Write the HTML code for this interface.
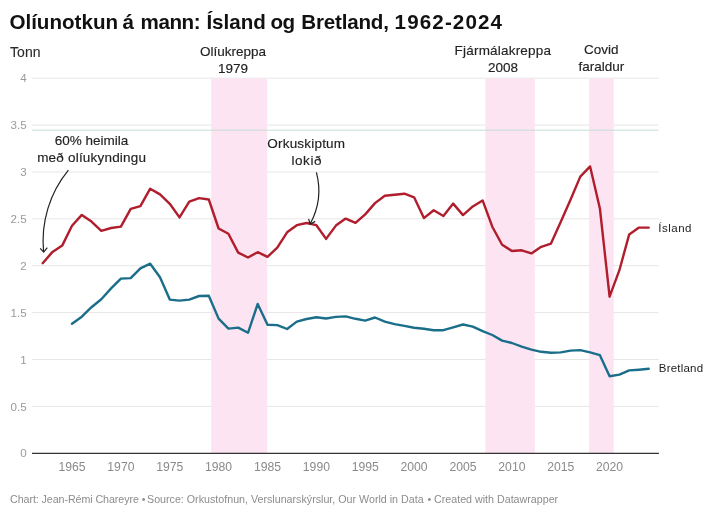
<!DOCTYPE html>
<html><head><meta charset="utf-8">
<style>
html,body{margin:0;padding:0;background:#fff;}
body{width:713px;height:516px;overflow:hidden;position:relative;}
svg{position:absolute;left:0;top:0;}
svg{will-change:transform;}
text{font-family:"Liberation Sans",sans-serif;}
.g{stroke:#e6e6e6;stroke-width:1;}
.yl{font-size:11.6px;fill:#9a9a9a;text-anchor:end;}
.xl{font-size:12.2px;fill:#8a8a8a;text-anchor:middle;}
.an{font-size:13.5px;fill:#222;stroke:#222;stroke-width:0.15px;text-anchor:middle;}
.lab{font-size:11.5px;fill:#1e1e1e;}
</style></head><body>
<svg width="713" height="516" viewBox="0 0 713 516">
<text y="29.4" style="font-size:20.6px;font-weight:bold;fill:#111"><tspan x="9.4">Olíunotkun</tspan> <tspan x="122.6">á</tspan> <tspan x="140.6" style="letter-spacing:-0.45px">mann:</tspan> <tspan x="206.4">Ísland</tspan> <tspan x="270.5" style="letter-spacing:-0.6px">og</tspan> <tspan x="301.3" style="letter-spacing:-0.2px">Bretland,</tspan> <tspan x="394.6" style="letter-spacing:1.12px">1962-2024</tspan></text>
<text x="10.1" y="57.1" style="font-size:14px;fill:#2a2a2a;stroke:#2a2a2a;stroke-width:0.12px">Tonn</text>
<line x1="32" x2="658.5" y1="78.2" y2="78.2" class="g"/>
<line x1="32" x2="658.5" y1="125.1" y2="125.1" class="g"/>
<line x1="32" x2="658.5" y1="172.0" y2="172.0" class="g"/>
<line x1="32" x2="658.5" y1="218.8" y2="218.8" class="g"/>
<line x1="32" x2="658.5" y1="265.7" y2="265.7" class="g"/>
<line x1="32" x2="658.5" y1="312.6" y2="312.6" class="g"/>
<line x1="32" x2="658.5" y1="359.5" y2="359.5" class="g"/>
<line x1="32" x2="658.5" y1="406.4" y2="406.4" class="g"/>
<g>
<rect x="211.2" y="78.7" width="56" height="374.6" fill="#fde4f2"/>
<rect x="485.4" y="78.7" width="49.4" height="374.6" fill="#fde4f2"/>
<rect x="589.1" y="78.7" width="24.6" height="374.6" fill="#fde4f2"/>
</g>
<line x1="32" x2="658.5" y1="130.2" y2="130.2" stroke="#c6ddd5" stroke-width="1"/>
<line x1="32" x2="658.9" y1="453.4" y2="453.4" stroke="#333" stroke-width="1.2"/>
<text x="26.7" y="82.3" class="yl">4</text>
<text x="26.7" y="129.2" class="yl">3.5</text>
<text x="26.7" y="176.1" class="yl">3</text>
<text x="26.7" y="222.9" class="yl">2.5</text>
<text x="26.7" y="269.8" class="yl">2</text>
<text x="26.7" y="316.7" class="yl">1.5</text>
<text x="26.7" y="363.6" class="yl">1</text>
<text x="26.7" y="410.5" class="yl">0.5</text>
<text x="26.7" y="457.4" class="yl">0</text>
<text x="72.0" y="470.6" class="xl">1965</text>
<text x="120.9" y="470.6" class="xl">1970</text>
<text x="169.8" y="470.6" class="xl">1975</text>
<text x="218.6" y="470.6" class="xl">1980</text>
<text x="267.5" y="470.6" class="xl">1985</text>
<text x="316.4" y="470.6" class="xl">1990</text>
<text x="365.2" y="470.6" class="xl">1995</text>
<text x="414.1" y="470.6" class="xl">2000</text>
<text x="463.0" y="470.6" class="xl">2005</text>
<text x="511.9" y="470.6" class="xl">2010</text>
<text x="560.8" y="470.6" class="xl">2015</text>
<text x="609.6" y="470.6" class="xl">2020</text>
<polyline points="72.0,323.7 81.8,316.7 91.5,307.2 101.3,299.2 111.1,288.4 120.9,278.6 130.7,278.1 140.4,268.3 150.2,263.7 160.0,277.2 169.8,299.6 179.5,300.6 189.3,299.6 199.1,296.0 208.8,295.7 218.6,318.6 228.4,328.6 238.2,327.6 248.0,332.8 257.7,304.0 267.5,324.8 277.3,325.1 287.1,329.0 296.8,321.6 306.6,319.0 316.4,317.3 326.1,318.5 335.9,316.9 345.7,316.4 355.5,318.8 365.2,320.6 375.0,317.5 384.8,321.6 394.6,324.1 404.4,325.9 414.1,327.8 423.9,328.8 433.7,330.2 443.4,330.2 453.2,327.3 463.0,324.5 472.8,326.6 482.6,331.2 492.3,335.0 502.1,340.6 511.9,343.0 521.7,346.7 531.4,349.7 541.2,351.8 551.0,352.8 560.8,352.4 570.5,350.6 580.3,350.1 590.1,352.4 599.9,355.2 609.6,376.3 619.4,374.6 629.2,370.4 639.0,369.7 648.7,368.8" fill="none" stroke="#1a6e8a" stroke-width="2.4" stroke-linejoin="round" stroke-linecap="round"/>
<polyline points="42.7,263.2 52.5,251.9 62.2,245.6 72.0,225.8 81.8,214.9 91.5,221.6 101.3,230.8 111.1,228.0 120.9,226.6 130.7,208.8 140.4,206.1 150.2,188.7 160.0,194.4 169.8,203.8 179.5,217.4 189.3,201.6 199.1,198.1 208.8,199.5 218.6,228.5 228.4,233.7 238.2,252.6 248.0,257.5 257.7,252.2 267.5,256.8 277.3,247.7 287.1,232.3 296.8,225.2 306.6,223.0 316.4,225.2 326.1,238.9 335.9,225.6 345.7,218.6 355.5,222.8 365.2,214.4 375.0,203.1 384.8,195.7 394.6,194.7 404.4,193.7 414.1,197.3 423.9,218.1 433.7,210.2 443.4,216.0 453.2,203.6 463.0,215.1 472.8,206.4 482.6,200.4 492.3,226.7 502.1,244.7 511.9,251.0 521.7,250.3 531.4,253.4 541.2,246.8 551.0,243.6 560.8,221.7 570.5,199.8 580.3,176.6 590.1,166.4 599.9,208.5 609.6,296.7 619.4,270.2 629.2,234.4 639.0,227.6 648.7,227.6" fill="none" stroke="#b01d2c" stroke-width="2.4" stroke-linejoin="round" stroke-linecap="round"/>
<text x="233" y="56" class="an">Olíukreppa</text>
<text x="233" y="72.5" class="an">1979</text>
<text x="502.9" y="55.2" class="an" style="letter-spacing:0.2px">Fjármálakreppa</text>
<text x="502.9" y="71.7" class="an">2008</text>
<text x="601.3" y="54.2" class="an">Covid</text>
<text x="601.4" y="70.9" class="an">faraldur</text>
<text x="91.6" y="145.4" class="an">60% heimila</text>
<text x="91.7" y="161.5" class="an" style="letter-spacing:0.2px">með olíukyndingu</text>
<text x="306.3" y="147.8" class="an" style="letter-spacing:0.2px">Orkuskiptum</text>
<text x="306.8" y="164.5" class="an" style="letter-spacing:0.6px">lokið</text>
<path d="M68.4,170.1 A111.5,111.5 0 0,0 43.6,251.5" fill="none" stroke="#222" stroke-width="1.2"/>
<path d="M40.2,248.3 L43.7,252.1 L47.3,247.7" fill="none" stroke="#222" stroke-width="1.2"/>
<path d="M316.4,172.3 A70,70 0 0,1 310.1,223.9" fill="none" stroke="#222" stroke-width="1.2"/>
<path d="M308.6,218.9 L310.1,224.2 L315.2,221.4" fill="none" stroke="#222" stroke-width="1.2"/>
<text x="658.3" y="231.8" class="lab" style="letter-spacing:0.5px">Ísland</text>
<text x="658.8" y="372" class="lab" style="letter-spacing:0.2px">Bretland</text>
<text y="503" style="font-size:10.7px;fill:#8c8c8c"><tspan x="10.1" style="letter-spacing:-0.08px">Chart: Jean-Rémi Chareyre</tspan> <tspan x="141.7">•</tspan> <tspan x="147">Source: Orkustofnun, Verslunarskýrslur, Our World in Data</tspan> <tspan x="427.4">•</tspan> <tspan x="434">Created with Datawrapper</tspan></text>
</svg>
</body></html>
